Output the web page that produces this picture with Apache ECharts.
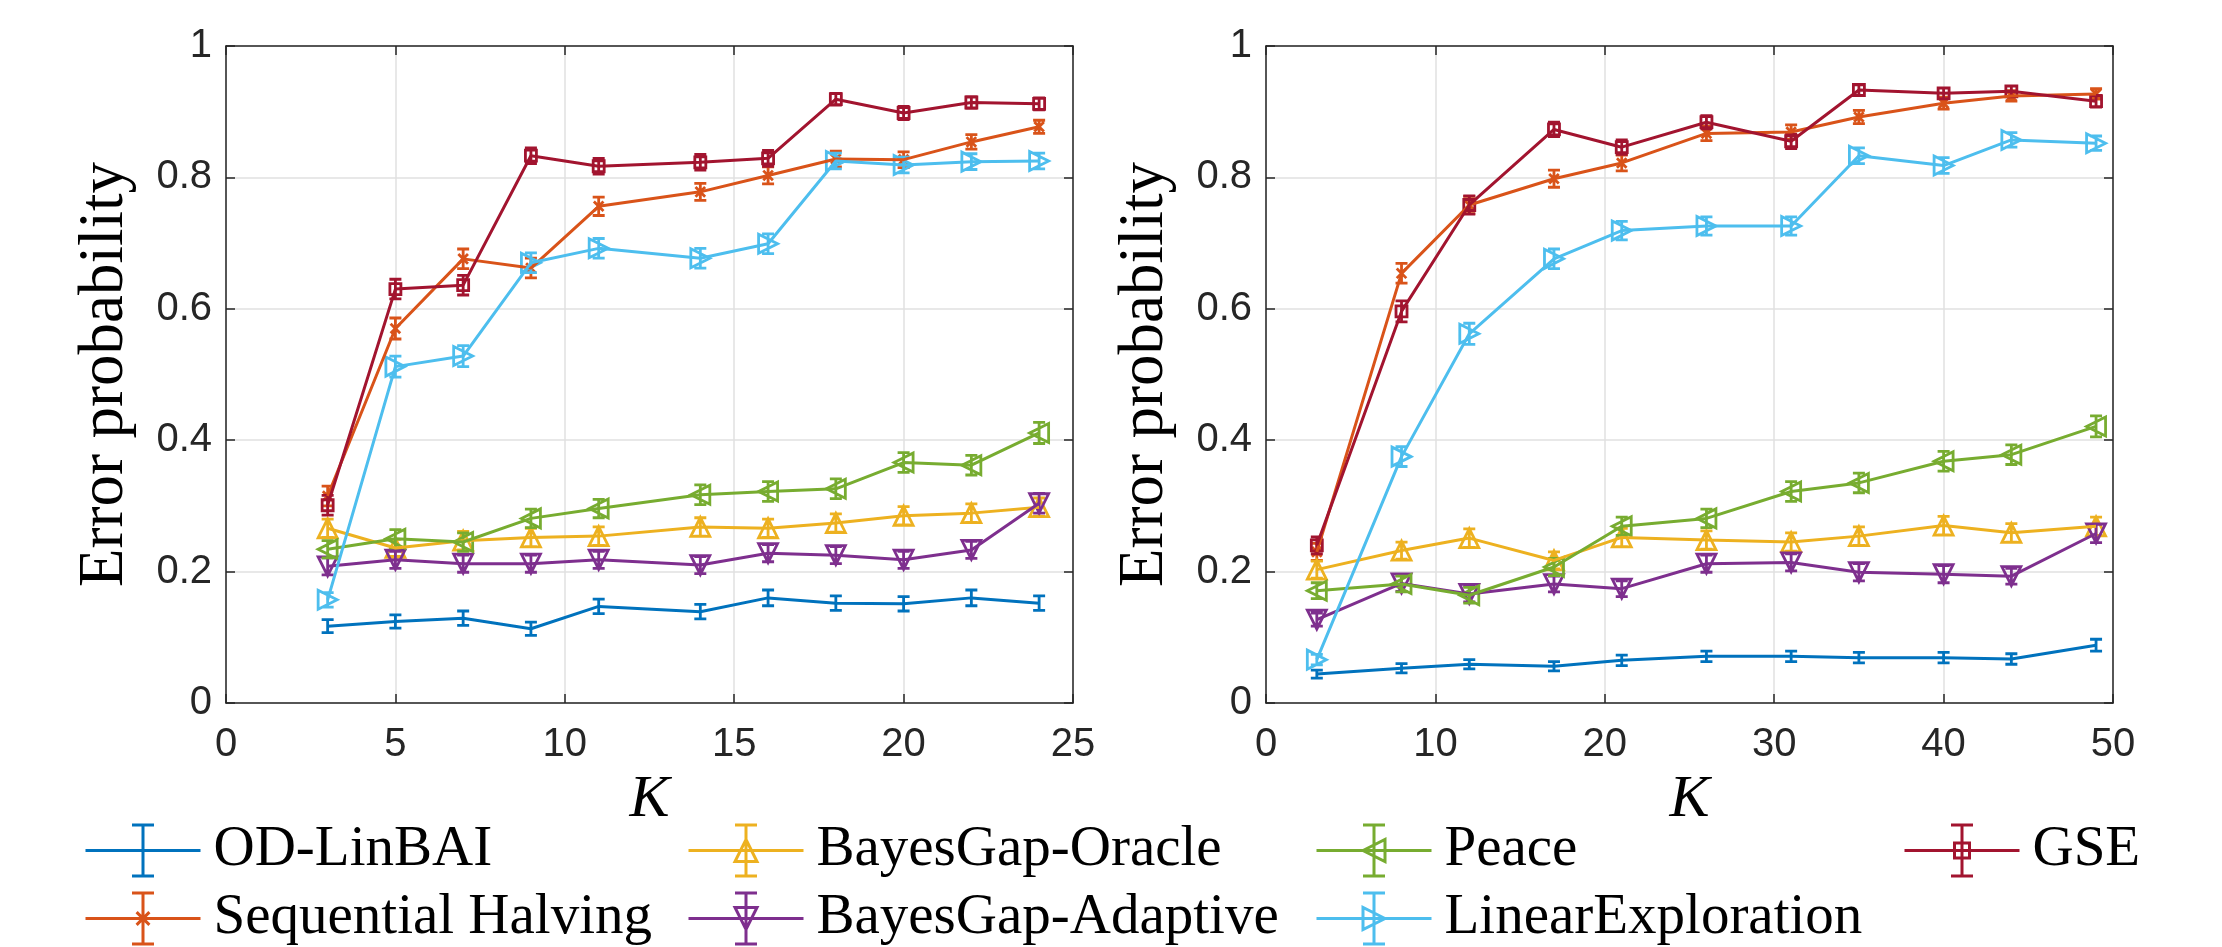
<!DOCTYPE html>
<html>
<head>
<meta charset="utf-8">
<script src="https://cdn.jsdelivr.net/npm/echarts/dist/echarts.min.js"></script>
<style>
  html, body { margin: 0; padding: 0; background: #fff; }
  #chart { width: 2222px; height: 947px; }
</style>
</head>
<body>
<div id="chart"></div>
<script>
// x values (K) of the two panels
const kLeft = [3, 5, 7, 9, 11, 14, 16, 18, 20, 22, 24];
const kRight = [3, 8, 12, 17, 21, 26, 31, 35, 40, 44, 49];

// left panel: mean error probability and error bar half-length
const leftOD = [0.117, 0.124, 0.129, 0.113, 0.147, 0.139, 0.160, 0.152, 0.151, 0.160, 0.152];
const leftSH = [0.315, 0.570, 0.676, 0.662, 0.756, 0.778, 0.803, 0.828, 0.827, 0.854, 0.877];
const leftBGO = [0.266, 0.236, 0.247, 0.252, 0.254, 0.268, 0.266, 0.274, 0.285, 0.289, 0.298];
const leftBGA = [0.208, 0.218, 0.212, 0.212, 0.218, 0.210, 0.228, 0.225, 0.218, 0.233, 0.304];
const leftPeace = [0.234, 0.250, 0.245, 0.281, 0.296, 0.317, 0.322, 0.326, 0.366, 0.362, 0.411];
const leftLE = [0.157, 0.512, 0.528, 0.670, 0.692, 0.677, 0.699, 0.825, 0.819, 0.824, 0.825];
const leftGSE = [0.301, 0.630, 0.636, 0.833, 0.817, 0.823, 0.829, 0.919, 0.898, 0.914, 0.912];

const leftODErr = [0.010, 0.010, 0.011, 0.010, 0.011, 0.011, 0.012, 0.011, 0.011, 0.012, 0.011];
const leftSHErr = [0.015, 0.016, 0.015, 0.015, 0.014, 0.013, 0.013, 0.012, 0.012, 0.011, 0.010];
const leftBGOErr = [0.014, 0.013, 0.014, 0.014, 0.014, 0.014, 0.014, 0.014, 0.014, 0.014, 0.014];
const leftBGAErr = [0.013, 0.013, 0.013, 0.013, 0.013, 0.013, 0.013, 0.013, 0.013, 0.013, 0.015];
const leftPeaceErr = [0.013, 0.014, 0.014, 0.014, 0.014, 0.015, 0.015, 0.015, 0.015, 0.015, 0.016];
const leftLEErr = [0.011, 0.016, 0.016, 0.015, 0.015, 0.015, 0.015, 0.012, 0.012, 0.012, 0.012];
const leftGSEErr = [0.015, 0.015, 0.015, 0.012, 0.012, 0.012, 0.012, 0.009, 0.010, 0.009, 0.009];

// right panel
const rightOD = [0.044, 0.053, 0.059, 0.056, 0.065, 0.071, 0.071, 0.069, 0.069, 0.067, 0.088];
const rightSH = [0.230, 0.654, 0.758, 0.798, 0.822, 0.867, 0.869, 0.892, 0.913, 0.924, 0.927];
const rightBGO = [0.203, 0.232, 0.251, 0.217, 0.252, 0.248, 0.245, 0.254, 0.270, 0.259, 0.269];
const rightBGA = [0.127, 0.182, 0.166, 0.181, 0.174, 0.212, 0.214, 0.199, 0.196, 0.193, 0.258];
const rightPeace = [0.171, 0.181, 0.164, 0.207, 0.269, 0.281, 0.322, 0.335, 0.368, 0.378, 0.421];
const rightLE = [0.066, 0.375, 0.562, 0.676, 0.719, 0.726, 0.726, 0.833, 0.818, 0.857, 0.852];
const rightGSE = [0.240, 0.596, 0.758, 0.873, 0.846, 0.884, 0.855, 0.933, 0.928, 0.931, 0.916];

const rightODErr = [0.006, 0.007, 0.007, 0.007, 0.008, 0.008, 0.008, 0.008, 0.008, 0.008, 0.009];
const rightSHErr = [0.013, 0.015, 0.013, 0.013, 0.012, 0.011, 0.011, 0.010, 0.009, 0.008, 0.008];
const rightBGOErr = [0.013, 0.013, 0.014, 0.013, 0.014, 0.014, 0.014, 0.014, 0.014, 0.014, 0.014];
const rightBGAErr = [0.010, 0.012, 0.012, 0.012, 0.012, 0.013, 0.013, 0.013, 0.013, 0.012, 0.014];
const rightPeaceErr = [0.012, 0.012, 0.012, 0.013, 0.014, 0.014, 0.015, 0.015, 0.015, 0.015, 0.016];
const rightLEErr = [0.008, 0.015, 0.016, 0.015, 0.014, 0.014, 0.014, 0.012, 0.012, 0.011, 0.011];
const rightGSEErr = [0.013, 0.016, 0.014, 0.011, 0.011, 0.010, 0.011, 0.008, 0.008, 0.008, 0.009];

const methods = ['OD-LinBAI', 'Sequential Halving', 'BayesGap-Oracle', 'BayesGap-Adaptive',
                 'Peace', 'LinearExploration', 'GSE'];
const colors = ['#0072BD', '#D95319', '#EDB120', '#7E2F8E', '#77AC30', '#4DBEEE', '#A2142F'];
const markers = ['none', 'star', 'up', 'down', 'left', 'right', 'square'];

const panels = [
  { k: kLeft, xMax: 25, xStep: 5,
    values: [leftOD, leftSH, leftBGO, leftBGA, leftPeace, leftLE, leftGSE],
    errors: [leftODErr, leftSHErr, leftBGOErr, leftBGAErr, leftPeaceErr, leftLEErr, leftGSEErr] },
  { k: kRight, xMax: 50, xStep: 10,
    values: [rightOD, rightSH, rightBGO, rightBGA, rightPeace, rightLE, rightGSE],
    errors: [rightODErr, rightSHErr, rightBGOErr, rightBGAErr, rightPeaceErr, rightLEErr, rightGSEErr] }
];

// marker outline as svg path, centred on (cx, cy)
function markerPath(shape, cx, cy, r) {
  switch (shape) {
    case 'star': {
      const a = r * 0.8;
      return ` M${cx - a} ${cy - a} L${cx + a} ${cy + a} M${cx + a} ${cy - a} L${cx - a} ${cy + a}` +
             ` M${cx} ${cy - r} L${cx} ${cy + r}`;
    }
    case 'up': return ` M${cx} ${cy - r} L${cx + r} ${cy + r} L${cx - r} ${cy + r} Z`;
    case 'down': return ` M${cx - r} ${cy - r} L${cx + r} ${cy - r} L${cx} ${cy + r} Z`;
    case 'left': return ` M${cx - r} ${cy} L${cx + r} ${cy - r} L${cx + r} ${cy + r} Z`;
    case 'right': return ` M${cx + r} ${cy} L${cx - r} ${cy - r} L${cx - r} ${cy + r} Z`;
    case 'square': return ` M${cx - r} ${cy - r} L${cx + r} ${cy - r} L${cx + r} ${cy + r} L${cx - r} ${cy + r} Z`;
    default: return '';
  }
}
const plotMarkerR = { none: 0, star: 6, up: 9.5, down: 9.5, left: 9.5, right: 9.5, square: 5.5 };
const legendMarkerR = { none: 0, star: 8, up: 11, down: 11, left: 11, right: 11, square: 7.5 };

function legendIcon(shape) {
  // box is 123 x 51; last zero-length segment only widens the box (gap before text)
  let d = 'M0 25.5 L115 25.5 M57.5 0 L57.5 51 M46.5 0 L68.5 0 M46.5 51 L68.5 51 M123 25.5 L123 25.5';
  d += markerPath(shape, 57.5, 25.5, legendMarkerR[shape]);
  return 'path://' + d;
}

function errorBarItem(color, shape) {
  return function (params, api) {
    const x = api.value(0);
    const lo = api.coord([x, api.value(1)]);
    const hi = api.coord([x, api.value(2)]);
    const c = api.coord([x, api.value(3)]);
    const cap = 6;
    let d = `M${lo[0]} ${lo[1]} L${hi[0]} ${hi[1]}` +
            ` M${lo[0] - cap} ${lo[1]} L${lo[0] + cap} ${lo[1]}` +
            ` M${hi[0] - cap} ${hi[1]} L${hi[0] + cap} ${hi[1]}`;
    d += markerPath(shape, c[0], c[1], plotMarkerR[shape]);
    return {
      type: 'path',
      shape: { pathData: d },
      style: { stroke: color, fill: 'none', lineWidth: 2.8 }
    };
  };
}

const axisColor = '#262626';
const tickFont = { fontFamily: 'Liberation Sans', fontSize: 40, color: axisColor };
const axisLine = { show: true, onZero: false, lineStyle: { color: axisColor, width: 1.5 } };
const axisTick = { show: true, inside: true, length: 9, lineStyle: { color: axisColor, width: 1.5 } };
const gridLine = { show: true, lineStyle: { color: '#e1e1e1', width: 1.5 } };

const xAxis = [];
const yAxis = [];
const series = [];
panels.forEach((p, g) => {
  xAxis.push({
    gridIndex: g, type: 'value', min: 0, max: p.xMax, interval: p.xStep, position: 'bottom',
    name: 'K', nameLocation: 'middle', nameGap: 65,
    nameTextStyle: { fontFamily: 'Liberation Serif', fontStyle: 'italic', fontSize: 60, color: '#000' },
    axisLine, axisTick, axisLabel: Object.assign({ margin: 22 }, tickFont), splitLine: gridLine
  });
  xAxis.push({
    gridIndex: g, type: 'value', min: 0, max: p.xMax, interval: p.xStep, position: 'top',
    axisLine, axisTick, axisLabel: { show: false }, splitLine: { show: false }
  });
  yAxis.push({
    gridIndex: g, type: 'value', min: 0, max: 1, interval: 0.2, position: 'left',
    name: 'Error probability', nameLocation: 'middle', nameRotate: 90, nameGap: 89,
    nameTextStyle: { fontFamily: 'Liberation Serif', fontSize: 63, color: '#000' },
    axisLine, axisTick, axisLabel: Object.assign({ margin: 14 }, tickFont), splitLine: gridLine
  });
  yAxis.push({
    gridIndex: g, type: 'value', min: 0, max: 1, interval: 0.2, position: 'right',
    axisLine, axisTick, axisLabel: { show: false }, splitLine: { show: false }
  });

  methods.forEach((name, i) => {
    const v = p.values[i];
    const e = p.errors[i];
    series.push({
      name, type: 'line', xAxisIndex: g * 2, yAxisIndex: g * 2,
      data: p.k.map((x, j) => [x, v[j]]),
      symbol: 'none', showSymbol: false, silent: true,
      lineStyle: { color: colors[i], width: 3 },
      itemStyle: { color: colors[i] },
      emphasis: { disabled: true }
    });
    series.push({
      name, type: 'custom', xAxisIndex: g * 2, yAxisIndex: g * 2,
      data: p.k.map((x, j) => [x, v[j] - e[j], v[j] + e[j], v[j]]),
      encode: { x: 0, y: [1, 2, 3] },
      renderItem: errorBarItem(colors[i], markers[i]),
      silent: true
    });
  });
});

// legend is laid out column by column, as in the figure
const legendCols = [[0, 1], [2, 3], [4, 5], [6]];
const legendLeft = [84, 687, 1315, 1903];
const legend = legendCols.map((col, j) => ({
  orient: 'vertical', left: legendLeft[j], top: 822, padding: 0,
  itemGap: 11, itemWidth: 123, itemHeight: 51, selectedMode: false,
  textStyle: { fontFamily: 'Liberation Serif', fontSize: 57, color: '#000' },
  data: col.map(i => ({
    name: methods[i],
    icon: legendIcon(markers[i]),
    itemStyle: { color: 'rgba(0,0,0,0)', borderColor: colors[i], borderWidth: 3 }
  }))
}));

const chart = echarts.init(document.getElementById('chart'));
chart.setOption({
  animation: false,
  backgroundColor: '#fff',
  grid: [
    { left: 226, top: 46, width: 847, height: 657 },
    { left: 1266, top: 46, width: 847, height: 657 }
  ],
  legend,
  xAxis,
  yAxis,
  series
});
</script>
</body>
</html>
